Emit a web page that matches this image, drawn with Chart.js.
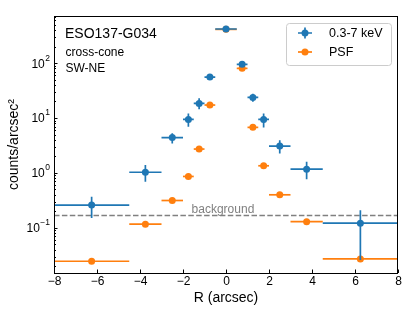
<!DOCTYPE html>
<html>
<head>
<meta charset="utf-8">
<script src="https://cdn.jsdelivr.net/npm/chart.js@4"></script>
<style>
html,body{margin:0;padding:0;background:#fff;}
#c{display:block;}
</style>
</head>
<body>
<canvas id="c" width="409" height="313"></canvas>
<script>
// ---- data ----
const rCenters   = [-6.25, -3.75, -2.5, -1.75, -1.25, -0.75, 0, 0.75, 1.25, 1.75, 2.5, 3.75, 6.25];
const rHalfWidth = [1.75, 0.75, 0.5, 0.25, 0.25, 0.25, 0.5, 0.25, 0.25, 0.25, 0.5, 0.75, 1.75];
const counts     = [0.26, 1.03, 4.4, 9.4, 18.4, 55.6, 416, 94.6, 23.7, 9.4, 3.08, 1.17, 0.122];
const countsLo   = [0.152, 0.69, 3.44, 6.9, 14.4, 49, 395, 86, 19.8, 6.7, 2.26, 0.77, 0.026];
const countsHi   = [0.367, 1.39, 5.25, 12.1, 22.8, 63, 437, 104, 27.6, 12.1, 3.95, 1.59, 0.21];
const psf        = [0.0247, 0.117, 0.315, 0.863, 2.72, 17.2, 410, 80, 6.75, 1.35, 0.40, 0.13, 0.0272];
const background = 0.168;
const xTicks     = [-8, -6, -4, -2, 0, 2, 4, 6, 8];
const yTickExps  = [-1, 0, 1, 2];
const seriesNames = ['0.3-7 keV', 'PSF'];
const titleLines = ['ESO137-G034', 'cross-cone', 'SW-NE'];

const BLUE = '#1f77b4', ORANGE = '#ff7f0e';
const FONT = '"Liberation Sans", Arial, sans-serif';

const errPlugin = {
  id: 'errbars',
  beforeDatasetsDraw(chart) {
    const {ctx, chartArea: a, scales: {x, y}} = chart;
    ctx.save();
    ctx.beginPath(); ctx.rect(a.left, a.top, a.right - a.left, a.bottom - a.top); ctx.clip();
    const by = y.getPixelForValue(background);
    ctx.strokeStyle = '#808080'; ctx.lineWidth = 1.5; ctx.setLineDash([5.5, 2.4]);
    ctx.beginPath(); ctx.moveTo(a.left, by); ctx.lineTo(a.right, by); ctx.stroke();
    ctx.setLineDash([]);
    ctx.fillStyle = '#808080'; ctx.font = '12px ' + FONT; ctx.textAlign = 'left'; ctx.textBaseline = 'alphabetic';
    ctx.fillText('background', x.getPixelForValue(-1.6), by - 2.5);
    ctx.restore();
  },
  beforeDatasetDraw(chart, args) {
    const {ctx, chartArea: a, scales: {x, y}} = chart;
    ctx.save();
    ctx.beginPath(); ctx.rect(a.left, a.top, a.right - a.left, a.bottom - a.top); ctx.clip();
    ctx.lineWidth = 1.7;
    if (args.index === 1) {
      ctx.strokeStyle = ORANGE;
      rCenters.forEach((r, i) => {
        const py = y.getPixelForValue(psf[i]);
        ctx.beginPath();
        ctx.moveTo(x.getPixelForValue(r - rHalfWidth[i]), py);
        ctx.lineTo(x.getPixelForValue(r + rHalfWidth[i]), py);
        ctx.stroke();
      });
    } else {
      ctx.strokeStyle = BLUE;
      rCenters.forEach((r, i) => {
        const px = x.getPixelForValue(r), py = y.getPixelForValue(counts[i]);
        ctx.beginPath();
        ctx.moveTo(x.getPixelForValue(r - rHalfWidth[i]), py);
        ctx.lineTo(x.getPixelForValue(r + rHalfWidth[i]), py);
        ctx.moveTo(px, y.getPixelForValue(countsLo[i]));
        ctx.lineTo(px, y.getPixelForValue(countsHi[i]));
        ctx.stroke();
      });
    }
    ctx.restore();
  },
  afterDraw(chart) {
    const {ctx, chartArea: a, scales: {x, y}} = chart;
    ctx.save();
    ctx.strokeStyle = '#000'; ctx.lineWidth = 1;
    ctx.strokeRect(Math.round(a.left) + 0.5, Math.round(a.top) + 0.5, Math.round(a.right - a.left) - 1, Math.round(a.bottom - a.top));
    // x ticks
    ctx.fillStyle = '#000'; ctx.font = '12px ' + FONT; ctx.textAlign = 'center'; ctx.textBaseline = 'middle';
    xTicks.forEach(v => {
      const px = Math.round(x.getPixelForValue(v)) + 0.5;
      ctx.beginPath(); ctx.moveTo(px, a.bottom); ctx.lineTo(px, a.bottom - 3.5); ctx.stroke();
      ctx.fillText(String(v).replace('-', '\u2212'), px, a.bottom + 8.5);
    });
    // y ticks (major + minor)
    for (let d = -2; d <= 2; d++) {
      for (let m = 1; m <= 9; m++) {
        const v = m * Math.pow(10, d);
        if (v < y.min || v > y.max) continue;
        const py = Math.round(y.getPixelForValue(v)) + 0.5;
        ctx.beginPath(); ctx.moveTo(a.left, py); ctx.lineTo(a.left + (m === 1 ? 3.5 : 2), py); ctx.stroke();
      }
    }
    // y tick labels
    yTickExps.forEach(e => {
      const py = y.getPixelForValue(Math.pow(10, e));
      const sup = String(e).replace('-', '\u2212');
      ctx.textBaseline = 'alphabetic'; ctx.textAlign = 'right';
      ctx.font = '8.5px ' + FONT;
      const sw = ctx.measureText(sup).width;
      const xr = a.left - 4;
      ctx.fillText(sup, xr, py - 2.5);
      ctx.font = '12px ' + FONT;
      ctx.fillText('10', xr - sw - 0.5, py + 4.5);
    });
    // axis titles
    ctx.font = '14px ' + FONT; ctx.textAlign = 'center'; ctx.textBaseline = 'middle';
    ctx.fillText('R (arcsec)', (a.left + a.right) / 2, 298);
    ctx.save();
    ctx.translate(14, (a.top + a.bottom) / 2);
    ctx.rotate(-Math.PI / 2);
    ctx.fillText('counts/arcsec\u00B2', 0, 0);
    ctx.restore();
    // annotation text
    ctx.textAlign = 'left';
    ctx.font = '14px ' + FONT; ctx.fillText(titleLines[0], 65, 34);
    ctx.font = '12px ' + FONT; ctx.fillText(titleLines[1], 65.5, 53);
    ctx.fillText(titleLines[2], 65.5, 68.5);
    // legend
    const lx = 286, ly = 23, lw = 105, lh = 42;
    ctx.beginPath();
    if (ctx.roundRect) ctx.roundRect(lx + 0.5, ly + 0.5, lw, lh, 3); else ctx.rect(lx + 0.5, ly + 0.5, lw, lh);
    ctx.fillStyle = 'rgba(255,255,255,0.8)'; ctx.fill();
    ctx.strokeStyle = '#cccccc'; ctx.lineWidth = 1; ctx.stroke();
    const rows = [{c: BLUE, y: 33, v: true}, {c: ORANGE, y: 52, v: false}];
    rows.forEach((rw, i) => {
      ctx.strokeStyle = rw.c; ctx.fillStyle = rw.c; ctx.lineWidth = 1.7;
      ctx.beginPath(); ctx.moveTo(298, rw.y); ctx.lineTo(312, rw.y);
      if (rw.v) { ctx.moveTo(305, rw.y - 5.5); ctx.lineTo(305, rw.y + 5.5); }
      ctx.stroke();
      ctx.beginPath(); ctx.arc(305, rw.y, 3.5, 0, Math.PI * 2); ctx.fill();
      ctx.fillStyle = '#000'; ctx.font = '12.5px ' + FONT; ctx.textBaseline = 'middle';
      ctx.fillText(seriesNames[i], 329, rw.y + 0.5);
    });
    ctx.restore();
  }
};

new Chart(document.getElementById('c'), {
  type: 'scatter',
  data: {
    datasets: [
      {label: seriesNames[0], data: rCenters.map((r, i) => ({x: r, y: counts[i]})),
       pointRadius: 3.5, pointBackgroundColor: BLUE, pointBorderWidth: 0, pointHoverRadius: 3.5},
      {label: seriesNames[1], data: rCenters.map((r, i) => ({x: r, y: psf[i]})),
       pointRadius: 3.5, pointBackgroundColor: ORANGE, pointBorderWidth: 0, pointHoverRadius: 3.5}
    ]
  },
  options: {
    responsive: false,
    animation: false,
    devicePixelRatio: 1,
    layout: {padding: {top: 16, right: 11, left: 0, bottom: 0}},
    plugins: {legend: {display: false}, tooltip: {enabled: false}},
    events: [],
    scales: {
      x: {type: 'linear', min: -8, max: 8,
          grid: {display: false}, border: {display: false}, ticks: {display: false},
          afterFit: s => { s.height = 40; }},
      y: {type: 'logarithmic', min: 0.0151, max: 718,
          grid: {display: false}, border: {display: false}, ticks: {display: false},
          afterFit: s => { s.width = 54; }}
    }
  },
  plugins: [errPlugin]
});
</script>
</body>
</html>
